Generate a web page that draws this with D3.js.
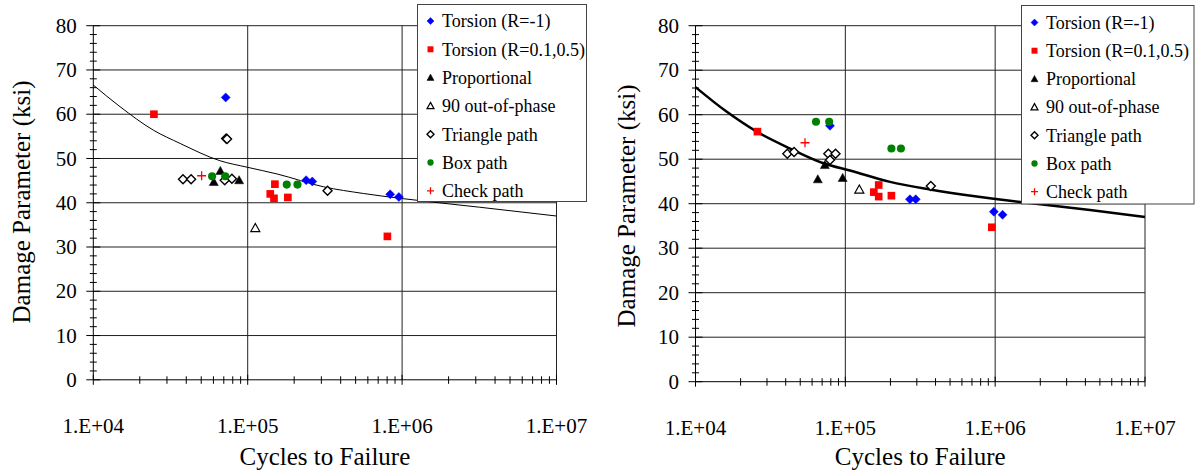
<!DOCTYPE html>
<html lang="en">
<head>
<meta charset="utf-8">
<title>damage parameter</title>
<script src="https://d3js.org/d3.v7.min.js"></script>
<style>
body { margin: 0; background: #fff; }
svg { font-family: "Liberation Serif", "Times New Roman", serif; }
.tick-label { font-size: 21px; fill: #000; }
.axis-title { font-size: 25px; fill: #000; }
.legend text { font-size: 18px; fill: #000; }
</style>
</head>
<body>
<div id="chart"></div>
<script>

// tick values / labels
var xMajor = [1e4, 1e5, 1e6, 1e7];
var xMajorLabels = ["1.E+04", "1.E+05", "1.E+06", "1.E+07"];
var yMajor = [0, 10, 20, 30, 40, 50, 60, 70, 80];

// series
var seriesNames = ["Torsion (R=-1)", "Torsion (R=0.1,0.5)", "Proportional", "90 out-of-phase",
  "Triangle path", "Box path", "Check path"];
var seriesColors = ["#0000ff", "#ff0000", "#000000", "#000000", "#000000", "#008000", "#ff0000"];
var seriesShapes = ["diamond", "square", "triangle", "triangleOpen", "diamondOpen", "circle", "plus"];

// left chart data [cycles, damage parameter]
var leftTorsionNeg = [[7.2e4, 63.8], [2.39e5, 45.1], [2.62e5, 44.8], [8.37e5, 41.9], [9.53e5, 41.3]];
var leftTorsionPos = [[2.47e4, 60.0], [1.50e5, 44.2], [1.40e5, 42.0], [1.48e5, 41.0], [1.82e5, 41.2], [8.03e5, 32.4]];
var leftProportional = [[6.65e4, 47.2], [6.03e4, 44.7], [8.8e4, 45.1]];
var leftOutOfPhase = [[1.12e5, 34.3]];
var leftTrianglePath = [[3.81e4, 45.3], [4.3e4, 45.3], [7.25e4, 54.5], [7.35e4, 54.4], [7.1e4, 45.1], [7.9e4, 45.4], [3.29e5, 42.7]];
var leftBoxPath = [[5.88e4, 46.0], [7.15e4, 46.0], [1.79e5, 44.1], [2.1e5, 44.1]];
var leftCheckPath = [[5.03e4, 46.1]];
var leftCurveN = [1e4, 1.49e4, 2.45e4, 3.65e4, 6.6e4, 1e5, 1.55e5, 3.1e5, 5.6e5, 9.7e5, 3.16e6, 1e7];
var leftCurveD = [66.6, 61.7, 56.4, 53.4, 49.5, 48.0, 46.5, 43.6, 42.1, 41.0, 39.0, 37.0];

// right chart data
var rightTorsionNeg = [[7.9e4, 57.5], [2.7e5, 41.0], [2.95e5, 41.0], [9.8e5, 38.2], [1.12e6, 37.5]];
var rightTorsionPos = [[2.59e4, 56.2], [1.67e5, 44.2], [1.55e5, 42.6], [1.67e5, 41.6], [2.03e5, 41.8], [9.5e5, 34.7]];
var rightProportional = [[7.3e4, 48.7], [6.55e4, 45.5], [9.6e4, 45.8]];
var rightOutOfPhase = [[1.24e5, 43.2]];
var rightTrianglePath = [[4.1e4, 51.2], [4.55e4, 51.6], [7.7e4, 51.2], [8.6e4, 51.2], [7.9e4, 49.8], [3.72e5, 44.0]];
var rightBoxPath = [[6.37e4, 58.4], [7.8e4, 58.4], [2.03e5, 52.4], [2.35e5, 52.4]];
var rightCheckPath = [[5.38e4, 53.7]];
var rightCurveN = [1e4, 1.61e4, 2.56e4, 4.28e4, 7.13e4, 1.09e5, 1.99e5, 3.67e5, 7.53e5, 1.22e6, 2e6, 4.3e6, 1e7];
var rightCurveD = [66.2, 60.7, 56.2, 52.4, 49.1, 47.4, 44.9, 43.2, 41.6, 40.7, 39.9, 38.6, 37.0];

var svg = d3.select("#chart").append("svg")
  .attr("width", 1200)
  .attr("height", 473);

function marker(g, shape, color, s) {
  var h = s / 2;
  if (shape == "diamond" || shape == "diamondOpen") {
    g.append("path").attr("d", "M0," + (-h) + "L" + h + ",0L0," + h + "L" + (-h) + ",0Z")
      .attr("fill", shape == "diamond" ? color : "#fff")
      .attr("stroke", color).attr("stroke-width", shape == "diamond" ? 0.5 : 1.4);
  } else if (shape == "square") {
    g.append("rect").attr("x", -h * 0.85).attr("y", -h * 0.85)
      .attr("width", s * 0.85).attr("height", s * 0.85).attr("fill", color);
  } else if (shape == "triangle" || shape == "triangleOpen") {
    g.append("path").attr("d", "M0," + (-h) + "L" + h + "," + (h * 0.8) + "L" + (-h) + "," + (h * 0.8) + "Z")
      .attr("fill", shape == "triangle" ? color : "#fff")
      .attr("stroke", color).attr("stroke-width", shape == "triangle" ? 0.5 : 1.2);
  } else if (shape == "circle") {
    g.append("circle").attr("r", h * 0.9).attr("fill", color);
  } else if (shape == "plus") {
    g.append("path").attr("d", "M" + (-h) + ",0H" + h + "M0," + (-h) + "V" + h)
      .attr("stroke", color).attr("stroke-width", 1.3).attr("fill", "none");
  }
}

function drawChart(cfg) {
  var x = d3.scaleLog().domain([1e4, 1e7]).range([cfg.x0, cfg.x1]);
  var y = d3.scaleLinear().domain([0, 80]).range([cfg.y0, cfg.y1]);
  var g = svg.append("g");

  // gridlines
  g.selectAll(".hgrid").data(yMajor.slice(1)).enter().append("line")
    .attr("x1", x(1e4)).attr("x2", x(1e7))
    .attr("y1", function(d) { return y(d); }).attr("y2", function(d) { return y(d); })
    .attr("stroke", "#222").attr("stroke-width", 1);
  g.selectAll(".vgrid").data(xMajor.slice(1)).enter().append("line")
    .attr("x1", function(d) { return x(d); }).attr("x2", function(d) { return x(d); })
    .attr("y1", y(0)).attr("y2", y(80))
    .attr("stroke", "#222").attr("stroke-width", 1);

  // y axis
  var yMinor = d3.range(0, 81, 2).filter(function(d) { return d % 10 != 0; });
  g.append("line").attr("x1", x(1e4)).attr("x2", x(1e4)).attr("y1", y(0)).attr("y2", y(80))
    .attr("stroke", "#000");
  g.selectAll(".ymin").data(yMinor).enter().append("line")
    .attr("x1", x(1e4) - 3.5).attr("x2", x(1e4) + 3.5)
    .attr("y1", function(d) { return y(d); }).attr("y2", function(d) { return y(d); })
    .attr("stroke", "#000");
  g.selectAll(".ymaj").data(yMajor).enter().append("line")
    .attr("x1", x(1e4) - 7).attr("x2", x(1e4) + 7)
    .attr("y1", function(d) { return y(d); }).attr("y2", function(d) { return y(d); })
    .attr("stroke", "#000");
  g.selectAll(".ylab").data(yMajor).enter().append("text")
    .attr("class", "tick-label")
    .attr("x", x(1e4) - 16.5)
    .attr("y", function(d) { return y(d); })
    .attr("dy", "0.34em")
    .attr("text-anchor", "end")
    .text(function(d) { return d; });

  // x axis
  var xMinor = [];
  [1e4, 1e5, 1e6].forEach(function(dec) {
    for (var k = 2; k <= 9; k++) xMinor.push(k * dec);
  });
  g.append("line").attr("x1", x(1e4)).attr("x2", x(1e7)).attr("y1", y(0)).attr("y2", y(0))
    .attr("stroke", "#000");
  g.selectAll(".xmin").data(xMinor).enter().append("line")
    .attr("x1", function(d) { return x(d); }).attr("x2", function(d) { return x(d); })
    .attr("y1", y(0) - 3.5).attr("y2", y(0) + 4)
    .attr("stroke", "#000");
  g.selectAll(".xmaj").data(xMajor).enter().append("line")
    .attr("x1", function(d) { return x(d); }).attr("x2", function(d) { return x(d); })
    .attr("y1", y(0) - 5).attr("y2", y(0) + 5)
    .attr("stroke", "#000");
  g.selectAll(".xlab").data(xMajor).enter().append("text")
    .attr("class", "tick-label")
    .attr("x", function(d) { return x(d); })
    .attr("y", y(0) + 53)
    .attr("text-anchor", "middle")
    .text(function(d, i) { return xMajorLabels[i]; });

  // titles
  g.append("text").attr("class", "axis-title")
    .attr("x", (cfg.x0 + cfg.x1) / 2).attr("y", 465)
    .attr("text-anchor", "middle")
    .text("Cycles to Failure");
  g.append("text").attr("class", "axis-title")
    .attr("transform", "translate(" + cfg.ytx + "," + cfg.yty + ") rotate(-90)")
    .attr("dy", "0.33em")
    .attr("text-anchor", "middle")
    .text("Damage Parameter (ksi)");

  // fitted curve
  var line = d3.line()
    .x(function(d) { return x(d[0]); })
    .y(function(d) { return y(d[1]); })
    .curve(d3.curveMonotoneX);
  var curvePts = cfg.curveN.map(function(n, i) { return [n, cfg.curveD[i]]; });
  g.append("path").attr("d", line(curvePts))
    .attr("fill", "none").attr("stroke", "#000").attr("stroke-width", cfg.curveW);

  // points
  cfg.series.forEach(function(pts, si) {
    pts.forEach(function(p) {
      var m = g.append("g").attr("transform", "translate(" + x(p[0]) + "," + y(p[1]) + ")");
      marker(m, seriesShapes[si], seriesColors[si], 9);
    });
  });

  // legend
  var lg = g.append("g").attr("class", "legend")
    .attr("transform", "translate(" + cfg.lx + "," + cfg.ly + ")");
  lg.append("rect").attr("width", cfg.lw).attr("height", cfg.lh)
    .attr("fill", "#fff").attr("stroke", "#444").attr("stroke-width", 1);
  seriesNames.forEach(function(name, i) {
    var cy = cfg.lrow0 + i * cfg.lrow;
    var m = lg.append("g").attr("transform", "translate(13," + cy + ")");
    marker(m, seriesShapes[i], seriesColors[i], 7);
    lg.append("text").attr("x", 24.5).attr("y", cy).attr("dy", "0.35em").text(name);
  });
}

drawChart({
  x0: 93.3, x1: 556.5, y0: 379.8, y1: 25.7,
  ytx: 22, yty: 202,
  curveN: leftCurveN, curveD: leftCurveD, curveW: 1,
  series: [leftTorsionNeg, leftTorsionPos, leftProportional, leftOutOfPhase, leftTrianglePath, leftBoxPath, leftCheckPath],
  lx: 417.5, ly: 4.5, lw: 169, lh: 197, lrow0: 16.5, lrow: 28.3
});

drawChart({
  x0: 695.5, x1: 1145, y0: 381.7, y1: 25.7,
  ytx: 627, yty: 206,
  curveN: rightCurveN, curveD: rightCurveD, curveW: 2.5,
  series: [rightTorsionNeg, rightTorsionPos, rightProportional, rightOutOfPhase, rightTrianglePath, rightBoxPath, rightCheckPath],
  lx: 1021.5, ly: 5.5, lw: 172.5, lh: 198.5, lrow0: 17, lrow: 28.2
});

</script>
</body>
</html>
